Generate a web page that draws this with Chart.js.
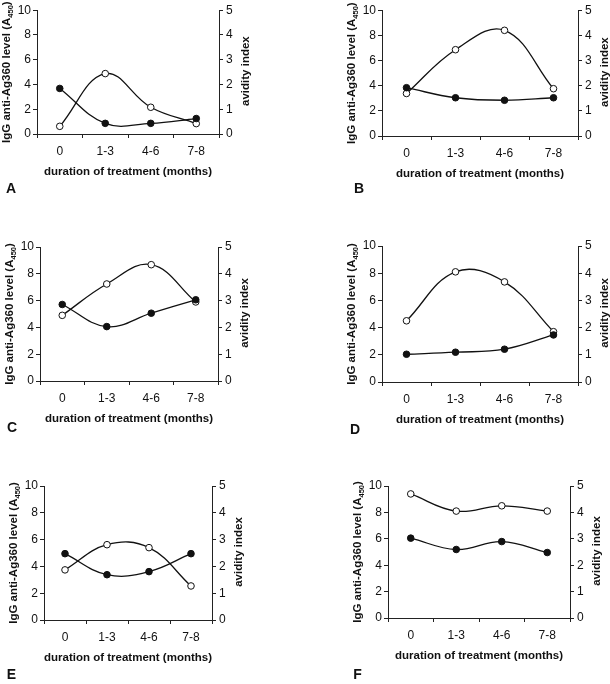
<!DOCTYPE html>
<html>
<head>
<meta charset="utf-8">
<script src="https://cdn.jsdelivr.net/npm/chart.js@4/dist/chart.umd.min.js"></script>
<style>
  html, body { margin: 0; padding: 0; background: #fff; }
  #wrap { position: relative; width: 610px; height: 684px; overflow: hidden; }
  canvas { position: absolute; }
</style>
</head>
<body>
<div id="wrap"></div>
<script>
// ---- data ----
const categories = ['0', '1-3', '4-6', '7-8'];
const leftTickStep = 2;   // IgG level axis 0..10
const rightTickStep = 1;  // avidity index axis 0..5

const iggA = [3.68, 0.86, 0.86, 1.25];
const avidA = [0.31, 2.44, 1.08, 0.42];
const iggB = [3.84, 3.04, 2.84, 3.04];
const avidB = [1.69, 3.43, 4.20, 1.88];
const iggC = [5.71, 4.06, 5.06, 6.06];
const avidC = [2.45, 3.62, 4.34, 2.95];
const iggD = [2.04, 2.19, 2.41, 3.46];
const avidD = [2.25, 4.05, 3.68, 1.85];
const iggE = [4.95, 3.38, 3.61, 4.95];
const avidE = [1.87, 2.81, 2.70, 1.27];
const iggF = [6.05, 5.19, 5.79, 4.96];
const avidF = [4.70, 4.05, 4.25, 4.05];

const xTitle = 'duration of treatment (months)';
const yTitleMain = 'IgG anti-Ag360 level (A';
const yTitleSub = '450';
const yTitleEnd = ')';
const y2Title = 'avidity index';

// ---- layout (canvas placement and plot-area margins) ----
const panels = [
  { letter: 'A', igg: iggA, avid: avidA, x: 0,   y: 0,   w: 305, h: 228, L: 37, T: 7,  R: 86, B: 94, lx: 11,  ly: 189 },
  { letter: 'B', igg: iggB, avid: avidB, x: 305, y: 0,   w: 305, h: 228, L: 77, T: 7,  R: 32, B: 92, lx: 54,  ly: 189 },
  { letter: 'C', igg: iggC, avid: avidC, x: 0,   y: 228, w: 305, h: 227, L: 40, T: 19, R: 87, B: 74, lx: 12,  ly: 200 },
  { letter: 'D', igg: iggD, avid: avidD, x: 305, y: 228, w: 305, h: 227, L: 77, T: 18, R: 32, B: 73, lx: 50,  ly: 202 },
  { letter: 'E', igg: iggE, avid: avidE, x: 0,   y: 455, w: 305, h: 229, L: 44, T: 31, R: 93, B: 64, lx: 11.5, ly: 220.5 },
  { letter: 'F', igg: iggF, avid: avidF, x: 305, y: 455, w: 305, h: 229, L: 83, T: 31, R: 40, B: 66, lx: 52.5, ly: 220 }
];

const FONT = '"Liberation Sans", Arial, Helvetica, sans-serif';
const INK = '#111';
const AXIS = '#222';

const textPlugin = {
  id: 'panelText',
  afterDraw(chart, args, opts) {
    const ctx = chart.ctx;
    const a = chart.chartArea;
    const cy = (a.top + a.bottom) / 2;
    ctx.save();
    ctx.fillStyle = INK;

    // x-axis title
    ctx.font = 'bold 11.5px ' + FONT;
    ctx.textAlign = 'center';
    ctx.textBaseline = 'middle';
    ctx.fillText(xTitle, (a.left + a.right) / 2, a.bottom + 37.5);

    // left y-axis title with subscript
    ctx.save();
    ctx.translate(a.left - 31, cy);
    ctx.rotate(-Math.PI / 2);
    ctx.textAlign = 'left';
    ctx.textBaseline = 'alphabetic';
    ctx.font = 'bold 11.5px ' + FONT;
    const w1 = ctx.measureText(yTitleMain).width;
    const w3 = ctx.measureText(yTitleEnd).width;
    ctx.font = 'bold 7.5px ' + FONT;
    const w2 = ctx.measureText(yTitleSub).width;
    let sx = -(w1 + w2 + w3) / 2;
    ctx.font = 'bold 11.5px ' + FONT;
    ctx.fillText(yTitleMain, sx, 4);
    ctx.font = 'bold 7.5px ' + FONT;
    ctx.fillText(yTitleSub, sx + w1, 6.5);
    ctx.font = 'bold 11.5px ' + FONT;
    ctx.fillText(yTitleEnd, sx + w1 + w2, 4);
    ctx.restore();

    // right y-axis title
    ctx.save();
    ctx.translate(a.right + 27, cy - 1);
    ctx.rotate(-Math.PI / 2);
    ctx.textAlign = 'center';
    ctx.textBaseline = 'middle';
    ctx.font = 'bold 11.5px ' + FONT;
    ctx.fillText(y2Title, 0, 0);
    ctx.restore();

    // panel letter
    ctx.font = 'bold 14px ' + FONT;
    ctx.textAlign = 'center';
    ctx.textBaseline = 'middle';
    ctx.fillText(opts.letter, opts.lx, opts.ly);
    ctx.restore();
  }
};

const wrap = document.getElementById('wrap');

panels.forEach(p => {
  const cv = document.createElement('canvas');
  cv.width = p.w; cv.height = p.h;
  cv.style.left = p.x + 'px'; cv.style.top = p.y + 'px';
  cv.style.width = p.w + 'px'; cv.style.height = p.h + 'px';
  wrap.appendChild(cv);

  new Chart(cv.getContext('2d'), {
    type: 'line',
    data: {
      labels: categories,
      datasets: [
        {
          label: 'IgG anti-Ag360 level',
          data: p.igg,
          yAxisID: 'y',
          borderColor: INK,
          borderWidth: 1.3,
          backgroundColor: INK,
          pointBackgroundColor: INK,
          pointBorderColor: INK,
          pointBorderWidth: 1,
          pointRadius: 3.3,
          tension: 0.4,
          fill: false
        },
        {
          label: 'avidity index',
          data: p.avid,
          yAxisID: 'y2',
          borderColor: INK,
          borderWidth: 1.3,
          backgroundColor: '#fff',
          pointBackgroundColor: '#fff',
          pointBorderColor: INK,
          pointBorderWidth: 1,
          pointRadius: 3.3,
          tension: 0.4,
          fill: false
        }
      ]
    },
    options: {
      responsive: false,
      maintainAspectRatio: false,
      animation: false,
      devicePixelRatio: 1,
      layout: { padding: { top: p.T, left: 0, right: 0, bottom: 0 } },
      plugins: {
        legend: { display: false },
        tooltip: { enabled: false },
        panelText: { letter: p.letter, lx: p.lx, ly: p.ly }
      },
      scales: {
        x: {
          type: 'category',
          offset: true,
          grid: { display: true, drawOnChartArea: false, drawTicks: true, tickLength: 4, offset: true, color: AXIS, lineWidth: 1 },
          border: { display: true, color: AXIS, width: 1 },
          ticks: { color: INK, font: { family: FONT, size: 12 }, padding: 6, maxRotation: 0 },
          afterFit: s => { s.height = p.B; }
        },
        y: {
          position: 'left',
          min: 0, max: 10,
          grid: { display: true, drawOnChartArea: false, drawTicks: true, tickLength: 4, color: AXIS, lineWidth: 1 },
          border: { display: true, color: AXIS, width: 1 },
          ticks: { stepSize: leftTickStep, color: INK, font: { family: FONT, size: 12 }, padding: 2 },
          afterFit: s => { s.width = p.L; }
        },
        y2: {
          position: 'right',
          min: 0, max: 5,
          grid: { display: true, drawOnChartArea: false, drawTicks: true, tickLength: 4, color: AXIS, lineWidth: 1 },
          border: { display: true, color: AXIS, width: 1 },
          ticks: { stepSize: rightTickStep, color: INK, font: { family: FONT, size: 12 }, padding: 3 },
          afterFit: s => { s.width = p.R; }
        }
      }
    },
    plugins: [textPlugin]
  });
});
</script>
</body>
</html>
